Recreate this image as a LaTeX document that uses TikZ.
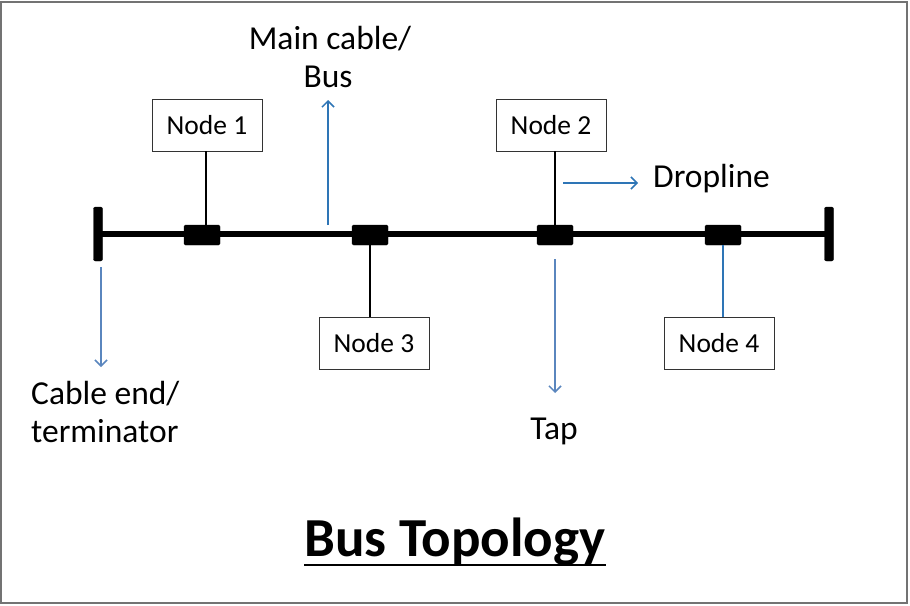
\documentclass[tikz,border=0pt]{standalone}
\usepackage{fontspec}
\setmainfont{Carlito}
\usetikzlibrary{arrows.meta}
\definecolor{arrblue}{HTML}{2E75B6}
\definecolor{steelarr}{HTML}{5A86BE}
\begin{document}
\begin{tikzpicture}[x=1pt,y=-1pt,
  nodebox/.style={draw=black!80,line width=0.9pt,minimum width=110pt,minimum height=52pt,inner sep=0pt,font=\fontsize{27.5}{30}\selectfont},
  tapblock/.style={fill=black,draw=black,minimum width=36pt,minimum height=20pt,inner sep=0pt,rounded corners=1.5pt},
  termbar/.style={fill=black,draw=black,minimum width=9pt,minimum height=54pt,inner sep=0pt,rounded corners=2pt},
  drop/.style={line width=1.5pt,black},
  bus/.style={line width=5.5pt,black},
  arr/.style={line width=1.5pt,-{Straight Barb[length=6pt,width=12pt,line width=1.5pt]}},
  lbl/.style={inner sep=0pt,font=\fontsize{33.5}{40}\selectfont}
]
\useasboundingbox (0,0) rectangle (910,605);
\draw[black!55,line width=2pt] (1,2) rectangle (907,603);

% terminators and bus
\node[termbar] (tl) at (98,234) {};
\node[termbar] (tr) at (829,234) {};
\draw[bus] (tl.center) -- (tr.center);

% taps
\node[tapblock] (t1) at (202,235) {};
\node[tapblock] (t3) at (370,235) {};
\node[tapblock] (t2) at (555,235) {};
\node[tapblock] (t4) at (723,235) {};

% node boxes
\node[nodebox] (n1) at (207,125) {Node 1};
\node[nodebox] (n2) at (551,125) {Node 2};
\node[nodebox] (n3) at (374,343) {Node 3};
\node[nodebox] (n4) at (719,343) {Node 4};

% droplines
\draw[drop] (n1.south -| t1.north) ++(4,0) -- ([xshift=4pt]t1.north);
\draw[drop] (n2.south -| t2.north) -- (t2.north);
\draw[drop] (t3.south) -- (t3.south |- n3.north);
\draw[line width=1.5pt,arrblue] (t4.south) -- (t4.south |- n4.north);

% labels
\node[lbl,anchor=base] (mc1) at (330,49) {Main cable/};
\node[lbl,anchor=base] (mc2) at (328,87) {Bus};
\node[lbl,anchor=base west] (dl) at (653,187) {Dropline};
\node[lbl,anchor=base west] (ce1) at (31,404) {Cable end/};
\node[lbl,anchor=base west] (ce2) at (31,442) {terminator};
\node[lbl,anchor=base] (tap) at (554,439) {Tap};

% arrows
\coordinate (mcS) at (328,225);
\coordinate (mcE) at (328,100);
\draw[arr,arrblue] (mcS) -- (mcE);
\coordinate (dlS) at (563,183);
\coordinate (dlE) at (638,183);
\draw[arr,arrblue] (dlS) -- (dlE);
\coordinate (tapS) at (555,259);
\coordinate (tapE) at (555,393);
\draw[arr,steelarr] (tapS) -- (tapE);
\coordinate (ceS) at (101,267);
\coordinate (ceE) at (101,367);
\draw[arr,steelarr] (ceS) -- (ceE);

% title
\node[inner sep=0pt,anchor=base,font=\fontsize{55}{60}\bfseries] (title) at (455,556) {Bus Topology};
\draw[line width=2.6pt] ([yshift=-9pt]title.base west) -- ([yshift=-9pt]title.base east);
\end{tikzpicture}
\end{document}
